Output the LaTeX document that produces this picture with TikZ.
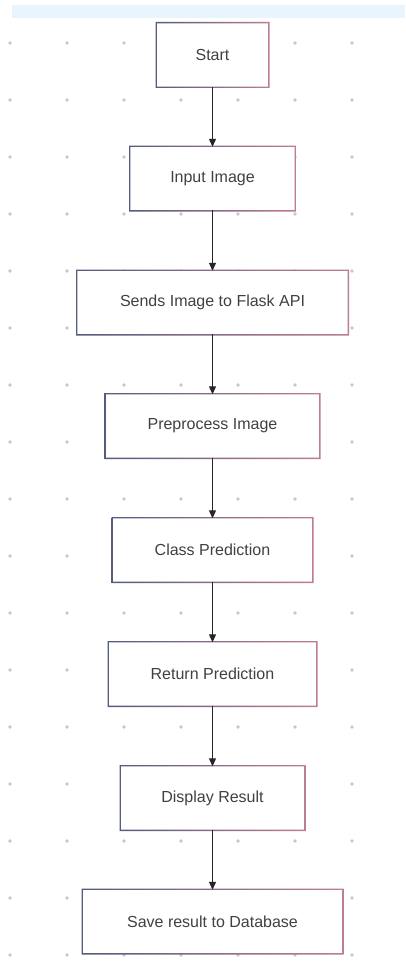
\documentclass[tikz,border=0pt]{standalone}
\usepackage{fontspec}
\setmainfont{Liberation Sans}
\usetikzlibrary{arrows.meta}
\definecolor{band}{RGB}{234,244,252}
\definecolor{dotc}{RGB}{200,200,200}
\definecolor{edgeblue}{RGB}{85,92,125}
\definecolor{edgepink}{RGB}{190,125,145}
\definecolor{txt}{RGB}{65,65,65}
\begin{document}
\begin{tikzpicture}[x=1pt,y=-1pt,arrow/.style={>={Triangle[length=8pt,width=7pt]},->,line width=1.1pt,black!85},box/.style={rectangle,fill=white,minimum height=63pt,inner sep=0pt,text=txt},font=\fontsize{16}{19}\selectfont]
				\fill[white] (0,0) rectangle (405,963);
				\useasboundingbox (0,0) rectangle (405,963);
				\fill[band] (12,5) rectangle (405,18);
				\foreach \i in {0,1,...,6}
				\foreach \j in {0,1,...,16} \fill[dotc] (10+57*\i,43+57*\j) circle (1.8pt);
				
				\foreach \ten/\nhan/\rong/\vtri in {start/Start/111/55,input/Input Image/164/178.5,send/Sends Image to Flask API/270/302.5,prep/Preprocess Image/213/426,class/Class Prediction/199/550,ret/Return Prediction/207/674,disp/Display Result/183/798,save/Save result to Database/259/921.5}
				{\node[box,minimum width=\rong pt] (\ten) at (212.5,\vtri) {\nhan};
				\shade[even odd rule,left color=edgeblue,right color=edgepink] ([xshift=-1.3pt,yshift=1.3pt]\ten.north west) rectangle ([xshift=1.3pt,yshift=-1.3pt]\ten.south east) (\ten.north west) rectangle (\ten.south east);}
				\foreach \a/\b in {start/input,input/send,send/prep,prep/class,class/ret,ret/disp,disp/save}
				\draw[arrow] (\a)--(\b);
			\end{tikzpicture}
\end{document}
